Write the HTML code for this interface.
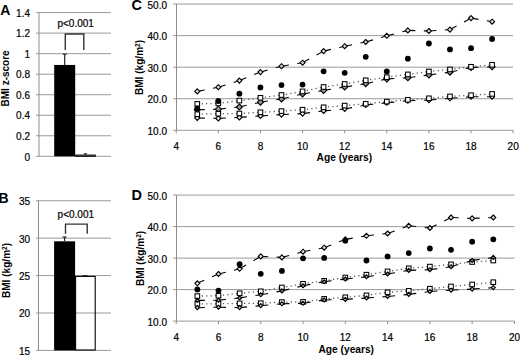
<!DOCTYPE html>
<html><head><meta charset="utf-8"><style>
html,body{margin:0;padding:0;background:#fff;}
body{width:520px;height:355px;overflow:hidden;}
svg{display:block;font-family:"Liberation Sans", sans-serif;}
text{fill:#000;stroke:#000;stroke-width:0.2px;}
text[font-weight=bold]{stroke-width:0px;}
</style></head><body>
<svg width="520" height="355" viewBox="0 0 520 355">
<rect width="520" height="355" fill="#fff"/>
<line x1="36.00" y1="156.30" x2="111.00" y2="156.30" stroke="#9a9a9a" stroke-width="1" />
<text x="30.00" y="160.50" font-size="10" text-anchor="end" font-weight="normal" >0</text>
<line x1="36.00" y1="135.77" x2="111.00" y2="135.77" stroke="#9a9a9a" stroke-width="1" />
<text x="30.00" y="139.97" font-size="10" text-anchor="end" font-weight="normal" >0.2</text>
<line x1="36.00" y1="115.24" x2="111.00" y2="115.24" stroke="#9a9a9a" stroke-width="1" />
<text x="30.00" y="119.44" font-size="10" text-anchor="end" font-weight="normal" >0.4</text>
<line x1="36.00" y1="94.72" x2="111.00" y2="94.72" stroke="#9a9a9a" stroke-width="1" />
<text x="30.00" y="98.92" font-size="10" text-anchor="end" font-weight="normal" >0.6</text>
<line x1="36.00" y1="74.19" x2="111.00" y2="74.19" stroke="#9a9a9a" stroke-width="1" />
<text x="30.00" y="78.39" font-size="10" text-anchor="end" font-weight="normal" >0.8</text>
<line x1="36.00" y1="53.66" x2="111.00" y2="53.66" stroke="#9a9a9a" stroke-width="1" />
<text x="30.00" y="57.86" font-size="10" text-anchor="end" font-weight="normal" >1</text>
<line x1="36.00" y1="33.13" x2="111.00" y2="33.13" stroke="#9a9a9a" stroke-width="1" />
<text x="30.00" y="37.33" font-size="10" text-anchor="end" font-weight="normal" >1.2</text>
<line x1="36.00" y1="12.60" x2="111.00" y2="12.60" stroke="#9a9a9a" stroke-width="1" />
<text x="30.00" y="16.80" font-size="10" text-anchor="end" font-weight="normal" >1.4</text>
<line x1="39.00" y1="12.60" x2="39.00" y2="156.30" stroke="#8c8c8c" stroke-width="1" />
<rect x="54.2" y="64.95" width="21" height="91.35" fill="#000"/>
<rect x="75.7" y="155.07" width="19.6" height="1.23" fill="none" stroke="#000" stroke-width="1"/>
<line x1="64.70" y1="64.95" x2="64.70" y2="54.17" stroke="#222" stroke-width="1.2" />
<line x1="62.70" y1="54.17" x2="66.70" y2="54.17" stroke="#222" stroke-width="1.2" />
<line x1="85.40" y1="155.07" x2="85.40" y2="153.73" stroke="#222" stroke-width="1" />
<line x1="83.90" y1="153.73" x2="86.90" y2="153.73" stroke="#222" stroke-width="1" />
<polyline points="65.3,50 65.3,34 83.8,34 83.8,50" fill="none" stroke="#333" stroke-width="1.4"/>
<text x="75.70" y="26.80" font-size="10" text-anchor="middle" font-weight="normal" >p&lt;0.001</text>
<text x="0.20" y="14.60" font-size="14" text-anchor="start" font-weight="bold" >A</text>
<text x="0.00" y="0.00" font-size="10" text-anchor="middle" font-weight="bold" transform="translate(9.3,78.4) rotate(-90)">BMI z-score</text>
<line x1="36.00" y1="350.40" x2="111.00" y2="350.40" stroke="#9a9a9a" stroke-width="1" />
<text x="30.00" y="354.90" font-size="10" text-anchor="end" font-weight="normal" >15</text>
<line x1="36.00" y1="312.99" x2="111.00" y2="312.99" stroke="#9a9a9a" stroke-width="1" />
<text x="30.00" y="317.49" font-size="10" text-anchor="end" font-weight="normal" >20</text>
<line x1="36.00" y1="275.57" x2="111.00" y2="275.57" stroke="#9a9a9a" stroke-width="1" />
<text x="30.00" y="280.07" font-size="10" text-anchor="end" font-weight="normal" >25</text>
<line x1="36.00" y1="238.16" x2="111.00" y2="238.16" stroke="#9a9a9a" stroke-width="1" />
<text x="30.00" y="242.66" font-size="10" text-anchor="end" font-weight="normal" >30</text>
<line x1="36.00" y1="200.75" x2="111.00" y2="200.75" stroke="#9a9a9a" stroke-width="1" />
<text x="30.00" y="205.25" font-size="10" text-anchor="end" font-weight="normal" >35</text>
<line x1="38.50" y1="200.75" x2="38.50" y2="350.40" stroke="#8c8c8c" stroke-width="1" />
<rect x="54.1" y="241.31" width="21" height="109.09" fill="#000"/>
<rect x="75.6" y="276.4" width="19.6" height="73.60" fill="none" stroke="#000" stroke-width="1.1"/>
<line x1="82.80" y1="275.70" x2="87.60" y2="275.70" stroke="#111" stroke-width="1.0" />
<line x1="64.60" y1="241.31" x2="64.60" y2="237.04" stroke="#222" stroke-width="1.2" />
<line x1="62.60" y1="237.04" x2="66.60" y2="237.04" stroke="#222" stroke-width="1.2" />
<polyline points="65.5,233.8 65.5,224.1 87.2,224.1 87.2,233.8" fill="none" stroke="#333" stroke-width="1.4"/>
<text x="75.80" y="217.60" font-size="10" text-anchor="middle" font-weight="normal" >p&lt;0.001</text>
<text x="-1.50" y="203.00" font-size="14" text-anchor="start" font-weight="bold" >B</text>
<text x="0.00" y="0.00" font-size="10.1" text-anchor="middle" font-weight="bold" transform="translate(9.6,270.5) rotate(-90)">BMI (kg/m<tspan font-size="6.5" dy="-3.1">2</tspan><tspan dy="3.1">)</tspan></text>
<line x1="173.00" y1="130.30" x2="513.00" y2="130.30" stroke="#9a9a9a" stroke-width="1" />
<text x="167.00" y="135.05" font-size="10" text-anchor="end" font-weight="normal" >10.0</text>
<line x1="173.00" y1="98.74" x2="513.00" y2="98.74" stroke="#9a9a9a" stroke-width="1" />
<text x="167.00" y="103.49" font-size="10" text-anchor="end" font-weight="normal" >20.0</text>
<line x1="173.00" y1="67.18" x2="513.00" y2="67.18" stroke="#9a9a9a" stroke-width="1" />
<text x="167.00" y="71.93" font-size="10" text-anchor="end" font-weight="normal" >30.0</text>
<line x1="173.00" y1="35.62" x2="513.00" y2="35.62" stroke="#9a9a9a" stroke-width="1" />
<text x="167.00" y="40.37" font-size="10" text-anchor="end" font-weight="normal" >40.0</text>
<line x1="173.00" y1="4.06" x2="513.00" y2="4.06" stroke="#9a9a9a" stroke-width="1" />
<text x="167.00" y="8.81" font-size="10" text-anchor="end" font-weight="normal" >50.0</text>
<line x1="176.50" y1="4.06" x2="176.50" y2="130.30" stroke="#8c8c8c" stroke-width="1" />
<line x1="176.20" y1="130.30" x2="176.20" y2="133.30" stroke="#8c8c8c" stroke-width="1" />
<text x="176.20" y="149.80" font-size="10" text-anchor="middle" font-weight="normal" >4</text>
<line x1="218.32" y1="130.30" x2="218.32" y2="133.30" stroke="#8c8c8c" stroke-width="1" />
<text x="218.32" y="149.80" font-size="10" text-anchor="middle" font-weight="normal" >6</text>
<line x1="260.44" y1="130.30" x2="260.44" y2="133.30" stroke="#8c8c8c" stroke-width="1" />
<text x="260.44" y="149.80" font-size="10" text-anchor="middle" font-weight="normal" >8</text>
<line x1="302.56" y1="130.30" x2="302.56" y2="133.30" stroke="#8c8c8c" stroke-width="1" />
<text x="302.56" y="149.80" font-size="10" text-anchor="middle" font-weight="normal" >10</text>
<line x1="344.68" y1="130.30" x2="344.68" y2="133.30" stroke="#8c8c8c" stroke-width="1" />
<text x="344.68" y="149.80" font-size="10" text-anchor="middle" font-weight="normal" >12</text>
<line x1="386.80" y1="130.30" x2="386.80" y2="133.30" stroke="#8c8c8c" stroke-width="1" />
<text x="386.80" y="149.80" font-size="10" text-anchor="middle" font-weight="normal" >14</text>
<line x1="428.92" y1="130.30" x2="428.92" y2="133.30" stroke="#8c8c8c" stroke-width="1" />
<text x="428.92" y="149.80" font-size="10" text-anchor="middle" font-weight="normal" >16</text>
<line x1="471.04" y1="130.30" x2="471.04" y2="133.30" stroke="#8c8c8c" stroke-width="1" />
<text x="471.04" y="149.80" font-size="10" text-anchor="middle" font-weight="normal" >18</text>
<line x1="513.16" y1="130.30" x2="513.16" y2="133.30" stroke="#8c8c8c" stroke-width="1" />
<text x="513.16" y="149.80" font-size="10" text-anchor="middle" font-weight="normal" >20</text>
<text x="344.35" y="160.80" font-size="10.2" text-anchor="middle" font-weight="bold" >Age (years)</text>
<text x="131.40" y="10.30" font-size="14.5" text-anchor="start" font-weight="bold" >C</text>
<text x="0.00" y="0.00" font-size="10.1" text-anchor="middle" font-weight="bold" transform="translate(143.3,67.5) rotate(-90)">BMI (kg/m<tspan font-size="6.5" dy="-3.1">2</tspan><tspan dy="3.1">)</tspan></text>
<line x1="197.26" y1="103.90" x2="218.32" y2="103.40" stroke="#555" stroke-width="1.3" stroke-dasharray="1.2 3.2"/>
<line x1="218.32" y1="103.40" x2="239.38" y2="100.60" stroke="#555" stroke-width="1.3" stroke-dasharray="1.2 3.2"/>
<line x1="239.38" y1="100.60" x2="260.44" y2="97.80" stroke="#555" stroke-width="1.3" stroke-dasharray="1.2 3.2"/>
<line x1="260.44" y1="97.80" x2="281.50" y2="95.00" stroke="#555" stroke-width="1.3" stroke-dasharray="1.2 3.2"/>
<line x1="281.50" y1="95.00" x2="302.56" y2="91.40" stroke="#555" stroke-width="1.3" stroke-dasharray="1.2 3.2"/>
<line x1="302.56" y1="91.40" x2="323.62" y2="87.00" stroke="#555" stroke-width="1.3" stroke-dasharray="1.2 3.2"/>
<line x1="323.62" y1="87.00" x2="344.68" y2="84.00" stroke="#555" stroke-width="1.3" stroke-dasharray="1.2 3.2"/>
<line x1="344.68" y1="84.00" x2="365.74" y2="80.30" stroke="#555" stroke-width="1.3" stroke-dasharray="1.2 3.2"/>
<line x1="365.74" y1="80.30" x2="386.80" y2="77.20" stroke="#555" stroke-width="1.3" stroke-dasharray="1.2 3.2"/>
<line x1="386.80" y1="77.20" x2="407.86" y2="74.40" stroke="#555" stroke-width="1.3" stroke-dasharray="1.2 3.2"/>
<line x1="407.86" y1="74.40" x2="428.92" y2="71.50" stroke="#555" stroke-width="1.3" stroke-dasharray="1.2 3.2"/>
<line x1="428.92" y1="71.50" x2="449.98" y2="69.40" stroke="#555" stroke-width="1.3" stroke-dasharray="1.2 3.2"/>
<line x1="449.98" y1="69.40" x2="471.04" y2="66.80" stroke="#555" stroke-width="1.3" stroke-dasharray="1.2 3.2"/>
<line x1="471.04" y1="66.80" x2="492.10" y2="64.80" stroke="#555" stroke-width="1.3" stroke-dasharray="1.2 3.2"/>
<line x1="197.26" y1="114.20" x2="218.32" y2="113.70" stroke="#555" stroke-width="1.3" stroke-dasharray="1.2 3.2"/>
<line x1="218.32" y1="113.70" x2="239.38" y2="113.50" stroke="#555" stroke-width="1.3" stroke-dasharray="1.2 3.2"/>
<line x1="239.38" y1="113.50" x2="260.44" y2="112.30" stroke="#555" stroke-width="1.3" stroke-dasharray="1.2 3.2"/>
<line x1="260.44" y1="112.30" x2="281.50" y2="111.10" stroke="#555" stroke-width="1.3" stroke-dasharray="1.2 3.2"/>
<line x1="281.50" y1="111.10" x2="302.56" y2="109.70" stroke="#555" stroke-width="1.3" stroke-dasharray="1.2 3.2"/>
<line x1="302.56" y1="109.70" x2="323.62" y2="107.30" stroke="#555" stroke-width="1.3" stroke-dasharray="1.2 3.2"/>
<line x1="323.62" y1="107.30" x2="344.68" y2="105.60" stroke="#555" stroke-width="1.3" stroke-dasharray="1.2 3.2"/>
<line x1="344.68" y1="105.60" x2="365.74" y2="103.80" stroke="#555" stroke-width="1.3" stroke-dasharray="1.2 3.2"/>
<line x1="365.74" y1="103.80" x2="386.80" y2="101.60" stroke="#555" stroke-width="1.3" stroke-dasharray="1.2 3.2"/>
<line x1="386.80" y1="101.60" x2="407.86" y2="99.80" stroke="#555" stroke-width="1.3" stroke-dasharray="1.2 3.2"/>
<line x1="407.86" y1="99.80" x2="428.92" y2="98.30" stroke="#555" stroke-width="1.3" stroke-dasharray="1.2 3.2"/>
<line x1="428.92" y1="98.30" x2="449.98" y2="96.40" stroke="#555" stroke-width="1.3" stroke-dasharray="1.2 3.2"/>
<line x1="449.98" y1="96.40" x2="471.04" y2="95.20" stroke="#555" stroke-width="1.3" stroke-dasharray="1.2 3.2"/>
<line x1="471.04" y1="95.20" x2="492.10" y2="93.90" stroke="#555" stroke-width="1.3" stroke-dasharray="1.2 3.2"/>
<line x1="197.26" y1="118.00" x2="218.32" y2="118.40" stroke="#000" stroke-width="1.1" stroke-dasharray="7.5 8.5"/>
<line x1="218.32" y1="118.40" x2="239.38" y2="117.40" stroke="#000" stroke-width="1.1" stroke-dasharray="7.5 8.5"/>
<line x1="239.38" y1="117.40" x2="260.44" y2="115.90" stroke="#000" stroke-width="1.1" stroke-dasharray="7.5 8.5"/>
<line x1="260.44" y1="115.90" x2="281.50" y2="114.60" stroke="#000" stroke-width="1.1" stroke-dasharray="7.5 8.5"/>
<line x1="281.50" y1="114.60" x2="302.56" y2="113.60" stroke="#000" stroke-width="1.1" stroke-dasharray="7.5 8.5"/>
<line x1="302.56" y1="113.60" x2="323.62" y2="110.90" stroke="#000" stroke-width="1.1" stroke-dasharray="7.5 8.5"/>
<line x1="323.62" y1="110.90" x2="344.68" y2="109.00" stroke="#000" stroke-width="1.1" stroke-dasharray="7.5 8.5"/>
<line x1="344.68" y1="109.00" x2="365.74" y2="105.00" stroke="#000" stroke-width="1.1" stroke-dasharray="7.5 8.5"/>
<line x1="365.74" y1="105.00" x2="386.80" y2="102.80" stroke="#000" stroke-width="1.1" stroke-dasharray="7.5 8.5"/>
<line x1="386.80" y1="102.80" x2="407.86" y2="100.80" stroke="#000" stroke-width="1.1" stroke-dasharray="7.5 8.5"/>
<line x1="407.86" y1="100.80" x2="428.92" y2="100.10" stroke="#000" stroke-width="1.1" stroke-dasharray="7.5 8.5"/>
<line x1="428.92" y1="100.10" x2="449.98" y2="98.30" stroke="#000" stroke-width="1.1" stroke-dasharray="7.5 8.5"/>
<line x1="449.98" y1="98.30" x2="471.04" y2="96.80" stroke="#000" stroke-width="1.1" stroke-dasharray="7.5 8.5"/>
<line x1="471.04" y1="96.80" x2="492.10" y2="96.70" stroke="#000" stroke-width="1.1" stroke-dasharray="7.5 8.5"/>
<line x1="197.26" y1="109.80" x2="218.32" y2="109.20" stroke="#000" stroke-width="1.1" stroke-dasharray="7.5 8.5"/>
<line x1="218.32" y1="109.20" x2="239.38" y2="107.00" stroke="#000" stroke-width="1.1" stroke-dasharray="7.5 8.5"/>
<line x1="239.38" y1="107.00" x2="260.44" y2="102.20" stroke="#000" stroke-width="1.1" stroke-dasharray="7.5 8.5"/>
<line x1="260.44" y1="102.20" x2="281.50" y2="99.00" stroke="#000" stroke-width="1.1" stroke-dasharray="7.5 8.5"/>
<line x1="281.50" y1="99.00" x2="302.56" y2="94.00" stroke="#000" stroke-width="1.1" stroke-dasharray="7.5 8.5"/>
<line x1="302.56" y1="94.00" x2="323.62" y2="90.40" stroke="#000" stroke-width="1.1" stroke-dasharray="7.5 8.5"/>
<line x1="323.62" y1="90.40" x2="344.68" y2="87.00" stroke="#000" stroke-width="1.1" stroke-dasharray="7.5 8.5"/>
<line x1="344.68" y1="87.00" x2="365.74" y2="83.70" stroke="#000" stroke-width="1.1" stroke-dasharray="7.5 8.5"/>
<line x1="365.74" y1="83.70" x2="386.80" y2="78.90" stroke="#000" stroke-width="1.1" stroke-dasharray="7.5 8.5"/>
<line x1="386.80" y1="78.90" x2="407.86" y2="77.70" stroke="#000" stroke-width="1.1" stroke-dasharray="7.5 8.5"/>
<line x1="407.86" y1="77.70" x2="428.92" y2="74.90" stroke="#000" stroke-width="1.1" stroke-dasharray="7.5 8.5"/>
<line x1="428.92" y1="74.90" x2="449.98" y2="72.20" stroke="#000" stroke-width="1.1" stroke-dasharray="7.5 8.5"/>
<line x1="449.98" y1="72.20" x2="471.04" y2="67.50" stroke="#000" stroke-width="1.1" stroke-dasharray="7.5 8.5"/>
<line x1="471.04" y1="67.50" x2="492.10" y2="66.80" stroke="#000" stroke-width="1.1" stroke-dasharray="7.5 8.5"/>
<line x1="197.26" y1="91.40" x2="218.32" y2="87.20" stroke="#000" stroke-width="1.1" stroke-dasharray="7.5 8.5"/>
<line x1="218.32" y1="87.20" x2="239.38" y2="80.60" stroke="#000" stroke-width="1.1" stroke-dasharray="7.5 8.5"/>
<line x1="239.38" y1="80.60" x2="260.44" y2="72.10" stroke="#000" stroke-width="1.1" stroke-dasharray="7.5 8.5"/>
<line x1="260.44" y1="72.10" x2="281.50" y2="66.20" stroke="#000" stroke-width="1.1" stroke-dasharray="7.5 8.5"/>
<line x1="281.50" y1="66.20" x2="302.56" y2="62.70" stroke="#000" stroke-width="1.1" stroke-dasharray="7.5 8.5"/>
<line x1="302.56" y1="62.70" x2="323.62" y2="51.10" stroke="#000" stroke-width="1.1" stroke-dasharray="7.5 8.5"/>
<line x1="323.62" y1="51.10" x2="344.68" y2="46.20" stroke="#000" stroke-width="1.1" stroke-dasharray="7.5 8.5"/>
<line x1="344.68" y1="46.20" x2="365.74" y2="42.00" stroke="#000" stroke-width="1.1" stroke-dasharray="7.5 8.5"/>
<line x1="365.74" y1="42.00" x2="386.80" y2="35.80" stroke="#000" stroke-width="1.1" stroke-dasharray="7.5 8.5"/>
<line x1="386.80" y1="35.80" x2="407.86" y2="30.40" stroke="#000" stroke-width="1.1" stroke-dasharray="7.5 8.5"/>
<line x1="407.86" y1="30.40" x2="428.92" y2="31.00" stroke="#000" stroke-width="1.1" stroke-dasharray="7.5 8.5"/>
<line x1="428.92" y1="31.00" x2="449.98" y2="29.60" stroke="#000" stroke-width="1.1" stroke-dasharray="7.5 8.5"/>
<line x1="449.98" y1="29.60" x2="471.04" y2="18.10" stroke="#000" stroke-width="1.1" stroke-dasharray="7.5 8.5"/>
<line x1="471.04" y1="18.10" x2="492.10" y2="21.70" stroke="#000" stroke-width="1.1" stroke-dasharray="7.5 8.5"/>
<path d="M197.26 115.50L199.76 118.00L197.26 120.50L194.76 118.00Z" fill="#eee" stroke="#000" stroke-width="1.1"/>
<path d="M218.32 115.90L220.82 118.40L218.32 120.90L215.82 118.40Z" fill="#eee" stroke="#000" stroke-width="1.1"/>
<path d="M239.38 114.90L241.88 117.40L239.38 119.90L236.88 117.40Z" fill="#eee" stroke="#000" stroke-width="1.1"/>
<path d="M260.44 113.40L262.94 115.90L260.44 118.40L257.94 115.90Z" fill="#eee" stroke="#000" stroke-width="1.1"/>
<path d="M281.50 112.10L284.00 114.60L281.50 117.10L279.00 114.60Z" fill="#eee" stroke="#000" stroke-width="1.1"/>
<path d="M302.56 111.10L305.06 113.60L302.56 116.10L300.06 113.60Z" fill="#eee" stroke="#000" stroke-width="1.1"/>
<path d="M323.62 108.40L326.12 110.90L323.62 113.40L321.12 110.90Z" fill="#eee" stroke="#000" stroke-width="1.1"/>
<path d="M344.68 106.50L347.18 109.00L344.68 111.50L342.18 109.00Z" fill="#eee" stroke="#000" stroke-width="1.1"/>
<path d="M365.74 102.50L368.24 105.00L365.74 107.50L363.24 105.00Z" fill="#eee" stroke="#000" stroke-width="1.1"/>
<path d="M386.80 100.30L389.30 102.80L386.80 105.30L384.30 102.80Z" fill="#eee" stroke="#000" stroke-width="1.1"/>
<path d="M407.86 98.30L410.36 100.80L407.86 103.30L405.36 100.80Z" fill="#eee" stroke="#000" stroke-width="1.1"/>
<path d="M428.92 97.60L431.42 100.10L428.92 102.60L426.42 100.10Z" fill="#eee" stroke="#000" stroke-width="1.1"/>
<path d="M449.98 95.80L452.48 98.30L449.98 100.80L447.48 98.30Z" fill="#eee" stroke="#000" stroke-width="1.1"/>
<path d="M471.04 94.30L473.54 96.80L471.04 99.30L468.54 96.80Z" fill="#eee" stroke="#000" stroke-width="1.1"/>
<path d="M492.10 94.20L494.60 96.70L492.10 99.20L489.60 96.70Z" fill="#eee" stroke="#000" stroke-width="1.1"/>
<path d="M197.26 106.80L200.26 109.80L197.26 112.80L194.26 109.80Z" fill="#999" stroke="#000" stroke-width="1.1"/>
<path d="M218.32 106.20L221.32 109.20L218.32 112.20L215.32 109.20Z" fill="#999" stroke="#000" stroke-width="1.1"/>
<path d="M239.38 104.00L242.38 107.00L239.38 110.00L236.38 107.00Z" fill="#999" stroke="#000" stroke-width="1.1"/>
<path d="M260.44 99.20L263.44 102.20L260.44 105.20L257.44 102.20Z" fill="#999" stroke="#000" stroke-width="1.1"/>
<path d="M281.50 96.00L284.50 99.00L281.50 102.00L278.50 99.00Z" fill="#999" stroke="#000" stroke-width="1.1"/>
<path d="M302.56 91.00L305.56 94.00L302.56 97.00L299.56 94.00Z" fill="#999" stroke="#000" stroke-width="1.1"/>
<path d="M323.62 87.40L326.62 90.40L323.62 93.40L320.62 90.40Z" fill="#999" stroke="#000" stroke-width="1.1"/>
<path d="M344.68 84.00L347.68 87.00L344.68 90.00L341.68 87.00Z" fill="#999" stroke="#000" stroke-width="1.1"/>
<path d="M365.74 80.70L368.74 83.70L365.74 86.70L362.74 83.70Z" fill="#999" stroke="#000" stroke-width="1.1"/>
<path d="M386.80 75.90L389.80 78.90L386.80 81.90L383.80 78.90Z" fill="#999" stroke="#000" stroke-width="1.1"/>
<path d="M407.86 74.70L410.86 77.70L407.86 80.70L404.86 77.70Z" fill="#999" stroke="#000" stroke-width="1.1"/>
<path d="M428.92 71.90L431.92 74.90L428.92 77.90L425.92 74.90Z" fill="#999" stroke="#000" stroke-width="1.1"/>
<path d="M449.98 69.20L452.98 72.20L449.98 75.20L446.98 72.20Z" fill="#999" stroke="#000" stroke-width="1.1"/>
<path d="M471.04 64.50L474.04 67.50L471.04 70.50L468.04 67.50Z" fill="#999" stroke="#000" stroke-width="1.1"/>
<path d="M492.10 63.80L495.10 66.80L492.10 69.80L489.10 66.80Z" fill="#999" stroke="#000" stroke-width="1.1"/>
<rect x="194.96" y="111.90" width="4.6" height="4.6" fill="#fff" stroke="#000" stroke-width="1.05"/>
<rect x="216.02" y="111.40" width="4.6" height="4.6" fill="#fff" stroke="#000" stroke-width="1.05"/>
<rect x="237.08" y="111.20" width="4.6" height="4.6" fill="#fff" stroke="#000" stroke-width="1.05"/>
<rect x="258.14" y="110.00" width="4.6" height="4.6" fill="#fff" stroke="#000" stroke-width="1.05"/>
<rect x="279.20" y="108.80" width="4.6" height="4.6" fill="#fff" stroke="#000" stroke-width="1.05"/>
<rect x="300.26" y="107.40" width="4.6" height="4.6" fill="#fff" stroke="#000" stroke-width="1.05"/>
<rect x="321.32" y="105.00" width="4.6" height="4.6" fill="#fff" stroke="#000" stroke-width="1.05"/>
<rect x="342.38" y="103.30" width="4.6" height="4.6" fill="#fff" stroke="#000" stroke-width="1.05"/>
<rect x="363.44" y="101.50" width="4.6" height="4.6" fill="#fff" stroke="#000" stroke-width="1.05"/>
<rect x="384.50" y="99.30" width="4.6" height="4.6" fill="#fff" stroke="#000" stroke-width="1.05"/>
<rect x="405.56" y="97.50" width="4.6" height="4.6" fill="#fff" stroke="#000" stroke-width="1.05"/>
<rect x="426.62" y="96.00" width="4.6" height="4.6" fill="#fff" stroke="#000" stroke-width="1.05"/>
<rect x="447.68" y="94.10" width="4.6" height="4.6" fill="#fff" stroke="#000" stroke-width="1.05"/>
<rect x="468.74" y="92.90" width="4.6" height="4.6" fill="#fff" stroke="#000" stroke-width="1.05"/>
<rect x="489.80" y="91.60" width="4.6" height="4.6" fill="#fff" stroke="#000" stroke-width="1.05"/>
<rect x="194.96" y="101.60" width="4.6" height="4.6" fill="#fff" stroke="#000" stroke-width="1.05"/>
<rect x="216.02" y="101.10" width="4.6" height="4.6" fill="#fff" stroke="#000" stroke-width="1.05"/>
<rect x="237.08" y="98.30" width="4.6" height="4.6" fill="#fff" stroke="#000" stroke-width="1.05"/>
<rect x="258.14" y="95.50" width="4.6" height="4.6" fill="#fff" stroke="#000" stroke-width="1.05"/>
<rect x="279.20" y="92.70" width="4.6" height="4.6" fill="#fff" stroke="#000" stroke-width="1.05"/>
<rect x="300.26" y="89.10" width="4.6" height="4.6" fill="#fff" stroke="#000" stroke-width="1.05"/>
<rect x="321.32" y="84.70" width="4.6" height="4.6" fill="#fff" stroke="#000" stroke-width="1.05"/>
<rect x="342.38" y="81.70" width="4.6" height="4.6" fill="#fff" stroke="#000" stroke-width="1.05"/>
<rect x="363.44" y="78.00" width="4.6" height="4.6" fill="#fff" stroke="#000" stroke-width="1.05"/>
<rect x="384.50" y="74.90" width="4.6" height="4.6" fill="#fff" stroke="#000" stroke-width="1.05"/>
<rect x="405.56" y="72.10" width="4.6" height="4.6" fill="#fff" stroke="#000" stroke-width="1.05"/>
<rect x="426.62" y="69.20" width="4.6" height="4.6" fill="#fff" stroke="#000" stroke-width="1.05"/>
<rect x="447.68" y="67.10" width="4.6" height="4.6" fill="#fff" stroke="#000" stroke-width="1.05"/>
<rect x="468.74" y="64.50" width="4.6" height="4.6" fill="#fff" stroke="#000" stroke-width="1.05"/>
<rect x="489.80" y="62.50" width="4.6" height="4.6" fill="#fff" stroke="#000" stroke-width="1.05"/>
<path d="M197.26 88.90L199.76 91.40L197.26 93.90L194.76 91.40Z" fill="#ddd" stroke="#000" stroke-width="1.1"/>
<path d="M218.32 84.70L220.82 87.20L218.32 89.70L215.82 87.20Z" fill="#ddd" stroke="#000" stroke-width="1.1"/>
<path d="M239.38 78.10L241.88 80.60L239.38 83.10L236.88 80.60Z" fill="#ddd" stroke="#000" stroke-width="1.1"/>
<path d="M260.44 69.60L262.94 72.10L260.44 74.60L257.94 72.10Z" fill="#ddd" stroke="#000" stroke-width="1.1"/>
<path d="M281.50 63.70L284.00 66.20L281.50 68.70L279.00 66.20Z" fill="#ddd" stroke="#000" stroke-width="1.1"/>
<path d="M302.56 60.20L305.06 62.70L302.56 65.20L300.06 62.70Z" fill="#ddd" stroke="#000" stroke-width="1.1"/>
<path d="M323.62 48.60L326.12 51.10L323.62 53.60L321.12 51.10Z" fill="#ddd" stroke="#000" stroke-width="1.1"/>
<path d="M344.68 43.70L347.18 46.20L344.68 48.70L342.18 46.20Z" fill="#ddd" stroke="#000" stroke-width="1.1"/>
<path d="M365.74 39.50L368.24 42.00L365.74 44.50L363.24 42.00Z" fill="#ddd" stroke="#000" stroke-width="1.1"/>
<path d="M386.80 33.30L389.30 35.80L386.80 38.30L384.30 35.80Z" fill="#ddd" stroke="#000" stroke-width="1.1"/>
<path d="M407.86 27.90L410.36 30.40L407.86 32.90L405.36 30.40Z" fill="#ddd" stroke="#000" stroke-width="1.1"/>
<path d="M428.92 28.50L431.42 31.00L428.92 33.50L426.42 31.00Z" fill="#ddd" stroke="#000" stroke-width="1.1"/>
<path d="M449.98 27.10L452.48 29.60L449.98 32.10L447.48 29.60Z" fill="#ddd" stroke="#000" stroke-width="1.1"/>
<path d="M471.04 15.60L473.54 18.10L471.04 20.60L468.54 18.10Z" fill="#ddd" stroke="#000" stroke-width="1.1"/>
<path d="M492.10 19.20L494.60 21.70L492.10 24.20L489.60 21.70Z" fill="#ddd" stroke="#000" stroke-width="1.1"/>
<circle cx="197.26" cy="108.50" r="2.9" fill="#000"/>
<circle cx="218.32" cy="101.00" r="2.9" fill="#000"/>
<circle cx="239.38" cy="93.70" r="2.9" fill="#000"/>
<circle cx="260.44" cy="87.40" r="2.9" fill="#000"/>
<circle cx="281.50" cy="85.10" r="2.9" fill="#000"/>
<circle cx="302.56" cy="84.60" r="2.9" fill="#000"/>
<circle cx="323.62" cy="71.30" r="2.9" fill="#000"/>
<circle cx="344.68" cy="72.80" r="2.9" fill="#000"/>
<circle cx="365.74" cy="56.80" r="2.9" fill="#000"/>
<circle cx="386.80" cy="71.50" r="2.9" fill="#000"/>
<circle cx="407.86" cy="58.70" r="2.9" fill="#000"/>
<circle cx="428.92" cy="43.50" r="2.9" fill="#000"/>
<circle cx="449.98" cy="49.40" r="2.9" fill="#000"/>
<circle cx="471.04" cy="48.20" r="2.9" fill="#000"/>
<circle cx="492.10" cy="38.90" r="2.9" fill="#000"/>
<line x1="173.00" y1="321.10" x2="514.60" y2="321.10" stroke="#9a9a9a" stroke-width="1" />
<text x="167.00" y="325.85" font-size="10" text-anchor="end" font-weight="normal" >10.0</text>
<line x1="173.00" y1="289.60" x2="514.60" y2="289.60" stroke="#9a9a9a" stroke-width="1" />
<text x="167.00" y="294.35" font-size="10" text-anchor="end" font-weight="normal" >20.0</text>
<line x1="173.00" y1="258.10" x2="514.60" y2="258.10" stroke="#9a9a9a" stroke-width="1" />
<text x="167.00" y="262.85" font-size="10" text-anchor="end" font-weight="normal" >30.0</text>
<line x1="173.00" y1="226.60" x2="514.60" y2="226.60" stroke="#9a9a9a" stroke-width="1" />
<text x="167.00" y="231.35" font-size="10" text-anchor="end" font-weight="normal" >40.0</text>
<line x1="173.00" y1="195.10" x2="514.60" y2="195.10" stroke="#9a9a9a" stroke-width="1" />
<text x="167.00" y="199.85" font-size="10" text-anchor="end" font-weight="normal" >50.0</text>
<line x1="176.50" y1="195.10" x2="176.50" y2="321.10" stroke="#8c8c8c" stroke-width="1" />
<line x1="176.20" y1="321.10" x2="176.20" y2="324.10" stroke="#8c8c8c" stroke-width="1" />
<text x="176.20" y="340.60" font-size="10" text-anchor="middle" font-weight="normal" >4</text>
<line x1="218.48" y1="321.10" x2="218.48" y2="324.10" stroke="#8c8c8c" stroke-width="1" />
<text x="218.48" y="340.60" font-size="10" text-anchor="middle" font-weight="normal" >6</text>
<line x1="260.76" y1="321.10" x2="260.76" y2="324.10" stroke="#8c8c8c" stroke-width="1" />
<text x="260.76" y="340.60" font-size="10" text-anchor="middle" font-weight="normal" >8</text>
<line x1="303.04" y1="321.10" x2="303.04" y2="324.10" stroke="#8c8c8c" stroke-width="1" />
<text x="303.04" y="340.60" font-size="10" text-anchor="middle" font-weight="normal" >10</text>
<line x1="345.32" y1="321.10" x2="345.32" y2="324.10" stroke="#8c8c8c" stroke-width="1" />
<text x="345.32" y="340.60" font-size="10" text-anchor="middle" font-weight="normal" >12</text>
<line x1="387.60" y1="321.10" x2="387.60" y2="324.10" stroke="#8c8c8c" stroke-width="1" />
<text x="387.60" y="340.60" font-size="10" text-anchor="middle" font-weight="normal" >14</text>
<line x1="429.88" y1="321.10" x2="429.88" y2="324.10" stroke="#8c8c8c" stroke-width="1" />
<text x="429.88" y="340.60" font-size="10" text-anchor="middle" font-weight="normal" >16</text>
<line x1="472.16" y1="321.10" x2="472.16" y2="324.10" stroke="#8c8c8c" stroke-width="1" />
<text x="472.16" y="340.60" font-size="10" text-anchor="middle" font-weight="normal" >18</text>
<line x1="514.44" y1="321.10" x2="514.44" y2="324.10" stroke="#8c8c8c" stroke-width="1" />
<text x="514.44" y="340.60" font-size="10" text-anchor="middle" font-weight="normal" >20</text>
<text x="346.25" y="352.70" font-size="10.2" text-anchor="middle" font-weight="bold" >Age (years)</text>
<text x="131.40" y="200.20" font-size="14.5" text-anchor="start" font-weight="bold" >D</text>
<text x="0.00" y="0.00" font-size="10.1" text-anchor="middle" font-weight="bold" transform="translate(144.2,258.4) rotate(-90)">BMI (kg/m<tspan font-size="6.5" dy="-3.1">2</tspan><tspan dy="3.1">)</tspan></text>
<line x1="197.34" y1="296.10" x2="218.48" y2="295.70" stroke="#555" stroke-width="1.3" stroke-dasharray="1.2 3.2"/>
<line x1="218.48" y1="295.70" x2="239.62" y2="293.30" stroke="#555" stroke-width="1.3" stroke-dasharray="1.2 3.2"/>
<line x1="239.62" y1="293.30" x2="260.76" y2="291.30" stroke="#555" stroke-width="1.3" stroke-dasharray="1.2 3.2"/>
<line x1="260.76" y1="291.30" x2="281.90" y2="287.50" stroke="#555" stroke-width="1.3" stroke-dasharray="1.2 3.2"/>
<line x1="281.90" y1="287.50" x2="303.04" y2="283.80" stroke="#555" stroke-width="1.3" stroke-dasharray="1.2 3.2"/>
<line x1="303.04" y1="283.80" x2="324.18" y2="280.80" stroke="#555" stroke-width="1.3" stroke-dasharray="1.2 3.2"/>
<line x1="324.18" y1="280.80" x2="345.32" y2="277.50" stroke="#555" stroke-width="1.3" stroke-dasharray="1.2 3.2"/>
<line x1="345.32" y1="277.50" x2="366.46" y2="274.70" stroke="#555" stroke-width="1.3" stroke-dasharray="1.2 3.2"/>
<line x1="366.46" y1="274.70" x2="387.60" y2="271.40" stroke="#555" stroke-width="1.3" stroke-dasharray="1.2 3.2"/>
<line x1="387.60" y1="271.40" x2="408.74" y2="268.30" stroke="#555" stroke-width="1.3" stroke-dasharray="1.2 3.2"/>
<line x1="408.74" y1="268.30" x2="429.88" y2="266.60" stroke="#555" stroke-width="1.3" stroke-dasharray="1.2 3.2"/>
<line x1="429.88" y1="266.60" x2="451.02" y2="264.40" stroke="#555" stroke-width="1.3" stroke-dasharray="1.2 3.2"/>
<line x1="451.02" y1="264.40" x2="472.16" y2="262.00" stroke="#555" stroke-width="1.3" stroke-dasharray="1.2 3.2"/>
<line x1="472.16" y1="262.00" x2="493.30" y2="260.50" stroke="#555" stroke-width="1.3" stroke-dasharray="1.2 3.2"/>
<line x1="197.34" y1="303.80" x2="218.48" y2="303.80" stroke="#555" stroke-width="1.3" stroke-dasharray="1.2 3.2"/>
<line x1="218.48" y1="303.80" x2="239.62" y2="303.40" stroke="#555" stroke-width="1.3" stroke-dasharray="1.2 3.2"/>
<line x1="239.62" y1="303.40" x2="260.76" y2="303.20" stroke="#555" stroke-width="1.3" stroke-dasharray="1.2 3.2"/>
<line x1="260.76" y1="303.20" x2="281.90" y2="302.10" stroke="#555" stroke-width="1.3" stroke-dasharray="1.2 3.2"/>
<line x1="281.90" y1="302.10" x2="303.04" y2="301.90" stroke="#555" stroke-width="1.3" stroke-dasharray="1.2 3.2"/>
<line x1="303.04" y1="301.90" x2="324.18" y2="298.90" stroke="#555" stroke-width="1.3" stroke-dasharray="1.2 3.2"/>
<line x1="324.18" y1="298.90" x2="345.32" y2="297.30" stroke="#555" stroke-width="1.3" stroke-dasharray="1.2 3.2"/>
<line x1="345.32" y1="297.30" x2="366.46" y2="295.40" stroke="#555" stroke-width="1.3" stroke-dasharray="1.2 3.2"/>
<line x1="366.46" y1="295.40" x2="387.60" y2="292.30" stroke="#555" stroke-width="1.3" stroke-dasharray="1.2 3.2"/>
<line x1="387.60" y1="292.30" x2="408.74" y2="290.80" stroke="#555" stroke-width="1.3" stroke-dasharray="1.2 3.2"/>
<line x1="408.74" y1="290.80" x2="429.88" y2="288.70" stroke="#555" stroke-width="1.3" stroke-dasharray="1.2 3.2"/>
<line x1="429.88" y1="288.70" x2="451.02" y2="286.50" stroke="#555" stroke-width="1.3" stroke-dasharray="1.2 3.2"/>
<line x1="451.02" y1="286.50" x2="472.16" y2="284.50" stroke="#555" stroke-width="1.3" stroke-dasharray="1.2 3.2"/>
<line x1="472.16" y1="284.50" x2="493.30" y2="282.20" stroke="#555" stroke-width="1.3" stroke-dasharray="1.2 3.2"/>
<line x1="197.34" y1="307.70" x2="218.48" y2="307.20" stroke="#000" stroke-width="1.1" stroke-dasharray="7.5 8.5"/>
<line x1="218.48" y1="307.20" x2="239.62" y2="307.60" stroke="#000" stroke-width="1.1" stroke-dasharray="7.5 8.5"/>
<line x1="239.62" y1="307.60" x2="260.76" y2="305.60" stroke="#000" stroke-width="1.1" stroke-dasharray="7.5 8.5"/>
<line x1="260.76" y1="305.60" x2="281.90" y2="303.80" stroke="#000" stroke-width="1.1" stroke-dasharray="7.5 8.5"/>
<line x1="281.90" y1="303.80" x2="303.04" y2="303.30" stroke="#000" stroke-width="1.1" stroke-dasharray="7.5 8.5"/>
<line x1="303.04" y1="303.30" x2="324.18" y2="300.00" stroke="#000" stroke-width="1.1" stroke-dasharray="7.5 8.5"/>
<line x1="324.18" y1="300.00" x2="345.32" y2="299.40" stroke="#000" stroke-width="1.1" stroke-dasharray="7.5 8.5"/>
<line x1="345.32" y1="299.40" x2="366.46" y2="298.00" stroke="#000" stroke-width="1.1" stroke-dasharray="7.5 8.5"/>
<line x1="366.46" y1="298.00" x2="387.60" y2="296.50" stroke="#000" stroke-width="1.1" stroke-dasharray="7.5 8.5"/>
<line x1="387.60" y1="296.50" x2="408.74" y2="294.40" stroke="#000" stroke-width="1.1" stroke-dasharray="7.5 8.5"/>
<line x1="408.74" y1="294.40" x2="429.88" y2="291.50" stroke="#000" stroke-width="1.1" stroke-dasharray="7.5 8.5"/>
<line x1="429.88" y1="291.50" x2="451.02" y2="290.20" stroke="#000" stroke-width="1.1" stroke-dasharray="7.5 8.5"/>
<line x1="451.02" y1="290.20" x2="472.16" y2="289.10" stroke="#000" stroke-width="1.1" stroke-dasharray="7.5 8.5"/>
<line x1="472.16" y1="289.10" x2="493.30" y2="287.60" stroke="#000" stroke-width="1.1" stroke-dasharray="7.5 8.5"/>
<line x1="197.34" y1="300.40" x2="218.48" y2="300.20" stroke="#000" stroke-width="1.1" stroke-dasharray="7.5 8.5"/>
<line x1="218.48" y1="300.20" x2="239.62" y2="297.90" stroke="#000" stroke-width="1.1" stroke-dasharray="7.5 8.5"/>
<line x1="239.62" y1="297.90" x2="260.76" y2="294.80" stroke="#000" stroke-width="1.1" stroke-dasharray="7.5 8.5"/>
<line x1="260.76" y1="294.80" x2="281.90" y2="290.90" stroke="#000" stroke-width="1.1" stroke-dasharray="7.5 8.5"/>
<line x1="281.90" y1="290.90" x2="303.04" y2="285.80" stroke="#000" stroke-width="1.1" stroke-dasharray="7.5 8.5"/>
<line x1="303.04" y1="285.80" x2="324.18" y2="281.80" stroke="#000" stroke-width="1.1" stroke-dasharray="7.5 8.5"/>
<line x1="324.18" y1="281.80" x2="345.32" y2="279.00" stroke="#000" stroke-width="1.1" stroke-dasharray="7.5 8.5"/>
<line x1="345.32" y1="279.00" x2="366.46" y2="276.80" stroke="#000" stroke-width="1.1" stroke-dasharray="7.5 8.5"/>
<line x1="366.46" y1="276.80" x2="387.60" y2="274.00" stroke="#000" stroke-width="1.1" stroke-dasharray="7.5 8.5"/>
<line x1="387.60" y1="274.00" x2="408.74" y2="270.40" stroke="#000" stroke-width="1.1" stroke-dasharray="7.5 8.5"/>
<line x1="408.74" y1="270.40" x2="429.88" y2="269.70" stroke="#000" stroke-width="1.1" stroke-dasharray="7.5 8.5"/>
<line x1="429.88" y1="269.70" x2="451.02" y2="266.70" stroke="#000" stroke-width="1.1" stroke-dasharray="7.5 8.5"/>
<line x1="451.02" y1="266.70" x2="472.16" y2="260.50" stroke="#000" stroke-width="1.1" stroke-dasharray="7.5 8.5"/>
<line x1="472.16" y1="260.50" x2="493.30" y2="257.40" stroke="#000" stroke-width="1.1" stroke-dasharray="7.5 8.5"/>
<line x1="197.34" y1="283.30" x2="218.48" y2="274.00" stroke="#000" stroke-width="1.1" stroke-dasharray="7.5 8.5"/>
<line x1="218.48" y1="274.00" x2="239.62" y2="268.80" stroke="#000" stroke-width="1.1" stroke-dasharray="7.5 8.5"/>
<line x1="239.62" y1="268.80" x2="260.76" y2="256.40" stroke="#000" stroke-width="1.1" stroke-dasharray="7.5 8.5"/>
<line x1="260.76" y1="256.40" x2="281.90" y2="257.40" stroke="#000" stroke-width="1.1" stroke-dasharray="7.5 8.5"/>
<line x1="281.90" y1="257.40" x2="303.04" y2="251.70" stroke="#000" stroke-width="1.1" stroke-dasharray="7.5 8.5"/>
<line x1="303.04" y1="251.70" x2="324.18" y2="247.70" stroke="#000" stroke-width="1.1" stroke-dasharray="7.5 8.5"/>
<line x1="324.18" y1="247.70" x2="345.32" y2="239.40" stroke="#000" stroke-width="1.1" stroke-dasharray="7.5 8.5"/>
<line x1="345.32" y1="239.40" x2="366.46" y2="235.80" stroke="#000" stroke-width="1.1" stroke-dasharray="7.5 8.5"/>
<line x1="366.46" y1="235.80" x2="387.60" y2="233.50" stroke="#000" stroke-width="1.1" stroke-dasharray="7.5 8.5"/>
<line x1="387.60" y1="233.50" x2="408.74" y2="225.80" stroke="#000" stroke-width="1.1" stroke-dasharray="7.5 8.5"/>
<line x1="408.74" y1="225.80" x2="429.88" y2="228.00" stroke="#000" stroke-width="1.1" stroke-dasharray="7.5 8.5"/>
<line x1="429.88" y1="228.00" x2="451.02" y2="217.50" stroke="#000" stroke-width="1.1" stroke-dasharray="7.5 8.5"/>
<line x1="451.02" y1="217.50" x2="472.16" y2="218.40" stroke="#000" stroke-width="1.1" stroke-dasharray="7.5 8.5"/>
<line x1="472.16" y1="218.40" x2="493.30" y2="217.50" stroke="#000" stroke-width="1.1" stroke-dasharray="7.5 8.5"/>
<rect x="195.04" y="301.50" width="4.6" height="4.6" fill="#fff" stroke="#000" stroke-width="1.05"/>
<rect x="216.18" y="301.50" width="4.6" height="4.6" fill="#fff" stroke="#000" stroke-width="1.05"/>
<rect x="237.32" y="301.10" width="4.6" height="4.6" fill="#fff" stroke="#000" stroke-width="1.05"/>
<rect x="258.46" y="300.90" width="4.6" height="4.6" fill="#fff" stroke="#000" stroke-width="1.05"/>
<rect x="279.60" y="299.80" width="4.6" height="4.6" fill="#fff" stroke="#000" stroke-width="1.05"/>
<rect x="300.74" y="299.60" width="4.6" height="4.6" fill="#fff" stroke="#000" stroke-width="1.05"/>
<rect x="321.88" y="296.60" width="4.6" height="4.6" fill="#fff" stroke="#000" stroke-width="1.05"/>
<rect x="343.02" y="295.00" width="4.6" height="4.6" fill="#fff" stroke="#000" stroke-width="1.05"/>
<rect x="364.16" y="293.10" width="4.6" height="4.6" fill="#fff" stroke="#000" stroke-width="1.05"/>
<rect x="385.30" y="290.00" width="4.6" height="4.6" fill="#fff" stroke="#000" stroke-width="1.05"/>
<rect x="406.44" y="288.50" width="4.6" height="4.6" fill="#fff" stroke="#000" stroke-width="1.05"/>
<rect x="427.58" y="286.40" width="4.6" height="4.6" fill="#fff" stroke="#000" stroke-width="1.05"/>
<rect x="448.72" y="284.20" width="4.6" height="4.6" fill="#fff" stroke="#000" stroke-width="1.05"/>
<rect x="469.86" y="282.20" width="4.6" height="4.6" fill="#fff" stroke="#000" stroke-width="1.05"/>
<rect x="491.00" y="279.90" width="4.6" height="4.6" fill="#fff" stroke="#000" stroke-width="1.05"/>
<rect x="195.04" y="293.80" width="4.6" height="4.6" fill="#fff" stroke="#000" stroke-width="1.05"/>
<rect x="216.18" y="293.40" width="4.6" height="4.6" fill="#fff" stroke="#000" stroke-width="1.05"/>
<rect x="237.32" y="291.00" width="4.6" height="4.6" fill="#fff" stroke="#000" stroke-width="1.05"/>
<rect x="258.46" y="289.00" width="4.6" height="4.6" fill="#fff" stroke="#000" stroke-width="1.05"/>
<rect x="279.60" y="285.20" width="4.6" height="4.6" fill="#fff" stroke="#000" stroke-width="1.05"/>
<rect x="300.74" y="281.50" width="4.6" height="4.6" fill="#fff" stroke="#000" stroke-width="1.05"/>
<rect x="321.88" y="278.50" width="4.6" height="4.6" fill="#fff" stroke="#000" stroke-width="1.05"/>
<rect x="343.02" y="275.20" width="4.6" height="4.6" fill="#fff" stroke="#000" stroke-width="1.05"/>
<rect x="364.16" y="272.40" width="4.6" height="4.6" fill="#fff" stroke="#000" stroke-width="1.05"/>
<rect x="385.30" y="269.10" width="4.6" height="4.6" fill="#fff" stroke="#000" stroke-width="1.05"/>
<rect x="406.44" y="266.00" width="4.6" height="4.6" fill="#fff" stroke="#000" stroke-width="1.05"/>
<rect x="427.58" y="264.30" width="4.6" height="4.6" fill="#fff" stroke="#000" stroke-width="1.05"/>
<rect x="448.72" y="262.10" width="4.6" height="4.6" fill="#fff" stroke="#000" stroke-width="1.05"/>
<rect x="469.86" y="259.70" width="4.6" height="4.6" fill="#fff" stroke="#000" stroke-width="1.05"/>
<rect x="491.00" y="258.20" width="4.6" height="4.6" fill="#fff" stroke="#000" stroke-width="1.05"/>
<path d="M197.34 305.70L199.34 307.70L197.34 309.70L195.34 307.70Z" fill="#ccc" stroke="#000" stroke-width="1.1"/>
<path d="M218.48 305.20L220.48 307.20L218.48 309.20L216.48 307.20Z" fill="#ccc" stroke="#000" stroke-width="1.1"/>
<path d="M239.62 305.60L241.62 307.60L239.62 309.60L237.62 307.60Z" fill="#ccc" stroke="#000" stroke-width="1.1"/>
<path d="M260.76 303.60L262.76 305.60L260.76 307.60L258.76 305.60Z" fill="#ccc" stroke="#000" stroke-width="1.1"/>
<path d="M281.90 301.80L283.90 303.80L281.90 305.80L279.90 303.80Z" fill="#ccc" stroke="#000" stroke-width="1.1"/>
<path d="M303.04 301.30L305.04 303.30L303.04 305.30L301.04 303.30Z" fill="#ccc" stroke="#000" stroke-width="1.1"/>
<path d="M324.18 298.00L326.18 300.00L324.18 302.00L322.18 300.00Z" fill="#ccc" stroke="#000" stroke-width="1.1"/>
<path d="M345.32 297.40L347.32 299.40L345.32 301.40L343.32 299.40Z" fill="#ccc" stroke="#000" stroke-width="1.1"/>
<path d="M366.46 296.00L368.46 298.00L366.46 300.00L364.46 298.00Z" fill="#ccc" stroke="#000" stroke-width="1.1"/>
<path d="M387.60 294.50L389.60 296.50L387.60 298.50L385.60 296.50Z" fill="#ccc" stroke="#000" stroke-width="1.1"/>
<path d="M408.74 292.40L410.74 294.40L408.74 296.40L406.74 294.40Z" fill="#ccc" stroke="#000" stroke-width="1.1"/>
<path d="M429.88 289.50L431.88 291.50L429.88 293.50L427.88 291.50Z" fill="#ccc" stroke="#000" stroke-width="1.1"/>
<path d="M451.02 288.20L453.02 290.20L451.02 292.20L449.02 290.20Z" fill="#ccc" stroke="#000" stroke-width="1.1"/>
<path d="M472.16 287.10L474.16 289.10L472.16 291.10L470.16 289.10Z" fill="#ccc" stroke="#000" stroke-width="1.1"/>
<path d="M493.30 285.60L495.30 287.60L493.30 289.60L491.30 287.60Z" fill="#ccc" stroke="#000" stroke-width="1.1"/>
<path d="M197.34 298.40L199.34 300.40L197.34 302.40L195.34 300.40Z" fill="#999" stroke="#000" stroke-width="1.1"/>
<path d="M218.48 298.20L220.48 300.20L218.48 302.20L216.48 300.20Z" fill="#999" stroke="#000" stroke-width="1.1"/>
<path d="M239.62 295.90L241.62 297.90L239.62 299.90L237.62 297.90Z" fill="#999" stroke="#000" stroke-width="1.1"/>
<path d="M260.76 292.80L262.76 294.80L260.76 296.80L258.76 294.80Z" fill="#999" stroke="#000" stroke-width="1.1"/>
<path d="M281.90 288.90L283.90 290.90L281.90 292.90L279.90 290.90Z" fill="#999" stroke="#000" stroke-width="1.1"/>
<path d="M303.04 283.80L305.04 285.80L303.04 287.80L301.04 285.80Z" fill="#999" stroke="#000" stroke-width="1.1"/>
<path d="M324.18 279.80L326.18 281.80L324.18 283.80L322.18 281.80Z" fill="#999" stroke="#000" stroke-width="1.1"/>
<path d="M345.32 277.00L347.32 279.00L345.32 281.00L343.32 279.00Z" fill="#999" stroke="#000" stroke-width="1.1"/>
<path d="M366.46 274.80L368.46 276.80L366.46 278.80L364.46 276.80Z" fill="#999" stroke="#000" stroke-width="1.1"/>
<path d="M387.60 272.00L389.60 274.00L387.60 276.00L385.60 274.00Z" fill="#999" stroke="#000" stroke-width="1.1"/>
<path d="M408.74 268.40L410.74 270.40L408.74 272.40L406.74 270.40Z" fill="#999" stroke="#000" stroke-width="1.1"/>
<path d="M429.88 267.70L431.88 269.70L429.88 271.70L427.88 269.70Z" fill="#999" stroke="#000" stroke-width="1.1"/>
<path d="M451.02 264.70L453.02 266.70L451.02 268.70L449.02 266.70Z" fill="#999" stroke="#000" stroke-width="1.1"/>
<path d="M472.16 258.50L474.16 260.50L472.16 262.50L470.16 260.50Z" fill="#999" stroke="#000" stroke-width="1.1"/>
<path d="M493.30 255.40L495.30 257.40L493.30 259.40L491.30 257.40Z" fill="#999" stroke="#000" stroke-width="1.1"/>
<path d="M197.34 280.80L199.84 283.30L197.34 285.80L194.84 283.30Z" fill="#ddd" stroke="#000" stroke-width="1.1"/>
<path d="M218.48 271.50L220.98 274.00L218.48 276.50L215.98 274.00Z" fill="#ddd" stroke="#000" stroke-width="1.1"/>
<path d="M239.62 266.30L242.12 268.80L239.62 271.30L237.12 268.80Z" fill="#ddd" stroke="#000" stroke-width="1.1"/>
<path d="M260.76 253.90L263.26 256.40L260.76 258.90L258.26 256.40Z" fill="#ddd" stroke="#000" stroke-width="1.1"/>
<path d="M281.90 254.90L284.40 257.40L281.90 259.90L279.40 257.40Z" fill="#ddd" stroke="#000" stroke-width="1.1"/>
<path d="M303.04 249.20L305.54 251.70L303.04 254.20L300.54 251.70Z" fill="#ddd" stroke="#000" stroke-width="1.1"/>
<path d="M324.18 245.20L326.68 247.70L324.18 250.20L321.68 247.70Z" fill="#ddd" stroke="#000" stroke-width="1.1"/>
<path d="M345.32 236.90L347.82 239.40L345.32 241.90L342.82 239.40Z" fill="#ddd" stroke="#000" stroke-width="1.1"/>
<path d="M366.46 233.30L368.96 235.80L366.46 238.30L363.96 235.80Z" fill="#ddd" stroke="#000" stroke-width="1.1"/>
<path d="M387.60 231.00L390.10 233.50L387.60 236.00L385.10 233.50Z" fill="#ddd" stroke="#000" stroke-width="1.1"/>
<path d="M408.74 223.30L411.24 225.80L408.74 228.30L406.24 225.80Z" fill="#ddd" stroke="#000" stroke-width="1.1"/>
<path d="M429.88 225.50L432.38 228.00L429.88 230.50L427.38 228.00Z" fill="#ddd" stroke="#000" stroke-width="1.1"/>
<path d="M451.02 215.00L453.52 217.50L451.02 220.00L448.52 217.50Z" fill="#ddd" stroke="#000" stroke-width="1.1"/>
<path d="M472.16 215.90L474.66 218.40L472.16 220.90L469.66 218.40Z" fill="#ddd" stroke="#000" stroke-width="1.1"/>
<path d="M493.30 215.00L495.80 217.50L493.30 220.00L490.80 217.50Z" fill="#ddd" stroke="#000" stroke-width="1.1"/>
<circle cx="197.34" cy="289.40" r="2.9" fill="#000"/>
<circle cx="218.48" cy="290.60" r="2.9" fill="#000"/>
<circle cx="239.62" cy="264.20" r="2.9" fill="#000"/>
<circle cx="260.76" cy="273.80" r="2.9" fill="#000"/>
<circle cx="281.90" cy="270.90" r="2.9" fill="#000"/>
<circle cx="303.04" cy="258.30" r="2.9" fill="#000"/>
<circle cx="324.18" cy="257.90" r="2.9" fill="#000"/>
<circle cx="345.32" cy="240.70" r="2.9" fill="#000"/>
<circle cx="366.46" cy="260.50" r="2.9" fill="#000"/>
<circle cx="387.60" cy="256.40" r="2.9" fill="#000"/>
<circle cx="408.74" cy="253.10" r="2.9" fill="#000"/>
<circle cx="429.88" cy="248.50" r="2.9" fill="#000"/>
<circle cx="451.02" cy="249.80" r="2.9" fill="#000"/>
<circle cx="472.16" cy="241.70" r="2.9" fill="#000"/>
<circle cx="493.30" cy="239.30" r="2.9" fill="#000"/>
</svg>
</body></html>
